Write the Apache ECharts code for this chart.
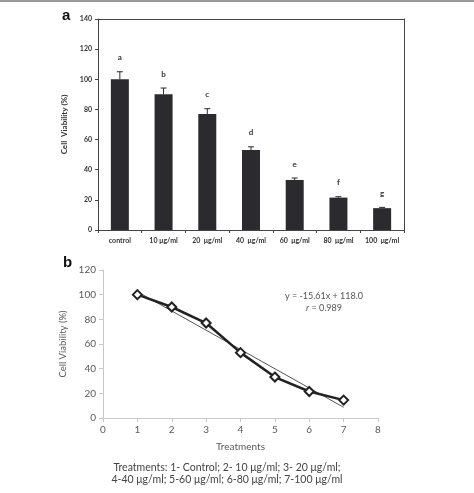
<!DOCTYPE html>
<html>
<head>
<meta charset="utf-8">
<script src="https://cdn.jsdelivr.net/npm/echarts@6/dist/echarts.min.js"></script>
<style>
  html, body { margin: 0; padding: 0; background: #fff; }
  #main { width: 474px; height: 493px; }
</style>
</head>
<body>
<div id="main"></div>
<script>
// panel a: bars with error bars and group letters
var doses = ['control', '10 μg/ml', '20  μg/ml', '40  μg/ml', '60  μg/ml', '80  μg/ml', '100  μg/ml'];
var viability = [100, 90, 77, 53, 33.2, 21.5, 14.5];
var viabilityErr = [5, 4.2, 3.5, 2.2, 1.3, 0.6, 0.5];
var groupLetters = ['a', 'b', 'c', 'd', 'e', 'f', 'g'];

// panel b: line vs treatment number, plus trend line
var treatments = [1, 2, 3, 4, 5, 6, 7];
var trendX = [1, 7];
var trendY = [102.4, 8.7];

var chart = echarts.init(document.getElementById('main'), null, { renderer: 'canvas' });

var errData = viability.map(function (v, i) {
  return [i, v, viabilityErr[i]];
});

var option = {
  animation: false,
  backgroundColor: '#fff',
  textStyle: { fontFamily: 'Lato' },
  grid: [
    { left: 98, top: 19, width: 306, height: 211 },
    { left: 103, top: 270, width: 275, height: 148 }
  ],
  xAxis: [
    {
      gridIndex: 0,
      type: 'category',
      data: doses,
      axisLine: { lineStyle: { color: '#444', width: 1 } },
      axisTick: { show: true, length: 3, lineStyle: { color: '#444' } },
      axisLabel: { color: '#333', fontSize: 7, fontWeight: 'bold', margin: 7, interval: 0 }
    },
    {
      gridIndex: 1,
      type: 'value',
      min: 0, max: 8, interval: 1,
      name: 'Treatments',
      nameLocation: 'middle',
      nameGap: 24,
      nameTextStyle: { color: '#595959', fontSize: 10 },
      splitLine: { show: false },
      axisLine: { lineStyle: { color: '#c8c8c8' } },
      axisTick: { show: true, length: 4, lineStyle: { color: '#c8c8c8' } },
      axisLabel: { color: '#595959', fontSize: 10, margin: 7 }
    },
    // top edge of panel a box
    {
      gridIndex: 0,
      type: 'category',
      data: doses,
      position: 'top',
      axisLine: { show: true, onZero: false, lineStyle: { color: '#444', width: 1 } },
      axisTick: { show: false },
      axisLabel: { show: false }
    }
  ],
  yAxis: [
    {
      gridIndex: 0,
      type: 'value',
      min: 0, max: 140, interval: 20,
      name: 'Cell  Viability (%)',
      nameLocation: 'middle',
      nameGap: 26,
      nameTextStyle: { color: '#333', fontSize: 8, fontWeight: 'bold' },
      splitLine: { show: false },
      axisLine: { show: true, lineStyle: { color: '#444' } },
      axisTick: { show: true, length: 3, lineStyle: { color: '#444' } },
      axisLabel: { color: '#333', fontSize: 7, fontWeight: 'bold', margin: 6 }
    },
    {
      gridIndex: 1,
      type: 'value',
      min: 0, max: 120, interval: 20,
      name: 'Cell Viability (%)',
      nameLocation: 'middle',
      nameGap: 27,
      nameTextStyle: { color: '#595959', fontSize: 9.5 },
      splitLine: { show: false },
      axisLine: { show: true, lineStyle: { color: '#c8c8c8' } },
      axisTick: { show: true, length: 4, lineStyle: { color: '#c8c8c8' } },
      axisLabel: { color: '#595959', fontSize: 10, margin: 7 }
    },
    // right edge of panel a box
    {
      gridIndex: 0,
      type: 'value',
      min: 0, max: 140, interval: 20,
      position: 'right',
      splitLine: { show: false },
      axisLine: { show: true, onZero: false, lineStyle: { color: '#444', width: 1 } },
      axisTick: { show: false },
      axisLabel: { show: false }
    }
  ],
  series: [
    {
      type: 'bar',
      xAxisIndex: 0, yAxisIndex: 0,
      data: viability,
      barWidth: 18,
      itemStyle: { color: '#2b2b2f' },
      z: 2
    },
    {
      type: 'custom',
      xAxisIndex: 2, yAxisIndex: 2,
      data: errData,
      z: 3,
      renderItem: function (params, api) {
        var i = api.value(0);
        var v = api.value(1);
        var e = api.value(2);
        var base = api.coord([i, v]);
        var top = api.coord([i, v + e]);
        var cap = 3;
        return {
          type: 'group',
          children: [
            { type: 'line', shape: { x1: top[0], y1: base[1], x2: top[0], y2: top[1] }, style: { stroke: '#2b2b2f', lineWidth: 1 } },
            { type: 'line', shape: { x1: top[0] - cap, y1: top[1], x2: top[0] + cap, y2: top[1] }, style: { stroke: '#2b2b2f', lineWidth: 1 } },
            { type: 'text', x: top[0], y: top[1] - 14, style: { text: groupLetters[params.dataIndex], fill: '#333', fontSize: 8, fontWeight: 'bold', fontFamily: 'Lato', align: 'center', verticalAlign: 'middle' } }
          ]
        };
      }
    },
    {
      type: 'line',
      xAxisIndex: 1, yAxisIndex: 1,
      data: trendX.map(function (x, i) { return [x, trendY[i]]; }),
      symbol: 'none',
      lineStyle: { color: '#555', width: 1 },
      z: 2
    },
    {
      type: 'line',
      xAxisIndex: 1, yAxisIndex: 1,
      data: treatments.map(function (t, i) { return [t, viability[i]]; }),
      symbol: 'path://M0,-1 L1,0 L0,1 L-1,0 Z',
      symbolSize: 9,
      itemStyle: { color: '#fff', borderColor: '#222', borderWidth: 2 },
      lineStyle: { color: '#222', width: 2.5 },
      z: 3
    }
  ],
  graphic: [
    { type: 'rect', shape: { x: 0, y: 0, width: 474, height: 2 }, style: { fill: '#999' } },
    { type: 'text', x: 62, y: 8, style: { text: 'a', fill: '#111', fontSize: 15, fontWeight: 'bold', fontFamily: 'Liberation Sans' } },
    { type: 'text', x: 63, y: 255, style: { text: 'b', fill: '#111', fontSize: 15, fontWeight: 'bold', fontFamily: 'Liberation Sans' } },
    { type: 'text', x: 324, y: 296, style: { text: 'y = -15.61x + 118.0', fill: '#555', fontSize: 9, fontFamily: 'Lato', align: 'center', verticalAlign: 'middle' } },
    { type: 'text', x: 324, y: 308, style: { text: '{i|r} = 0.989', fill: '#555', fontSize: 9, fontFamily: 'Lato', align: 'center', verticalAlign: 'middle', rich: { i: { fontStyle: 'italic', fontSize: 9, fontFamily: 'Lato', fill: '#555' } } } },
    { type: 'text', x: 227, y: 468, style: { text: 'Treatments: 1- Control; 2- 10 μg/ml; 3- 20 μg/ml;', fill: '#444', fontSize: 10.5, fontFamily: 'Lato', align: 'center', verticalAlign: 'middle' } },
    { type: 'text', x: 227, y: 480, style: { text: '4-40 μg/ml; 5-60 μg/ml; 6-80 μg/ml; 7-100 μg/ml', fill: '#444', fontSize: 10.5, fontFamily: 'Lato', align: 'center', verticalAlign: 'middle' } }
  ]
};

chart.setOption(option);
</script>
</body>
</html>
